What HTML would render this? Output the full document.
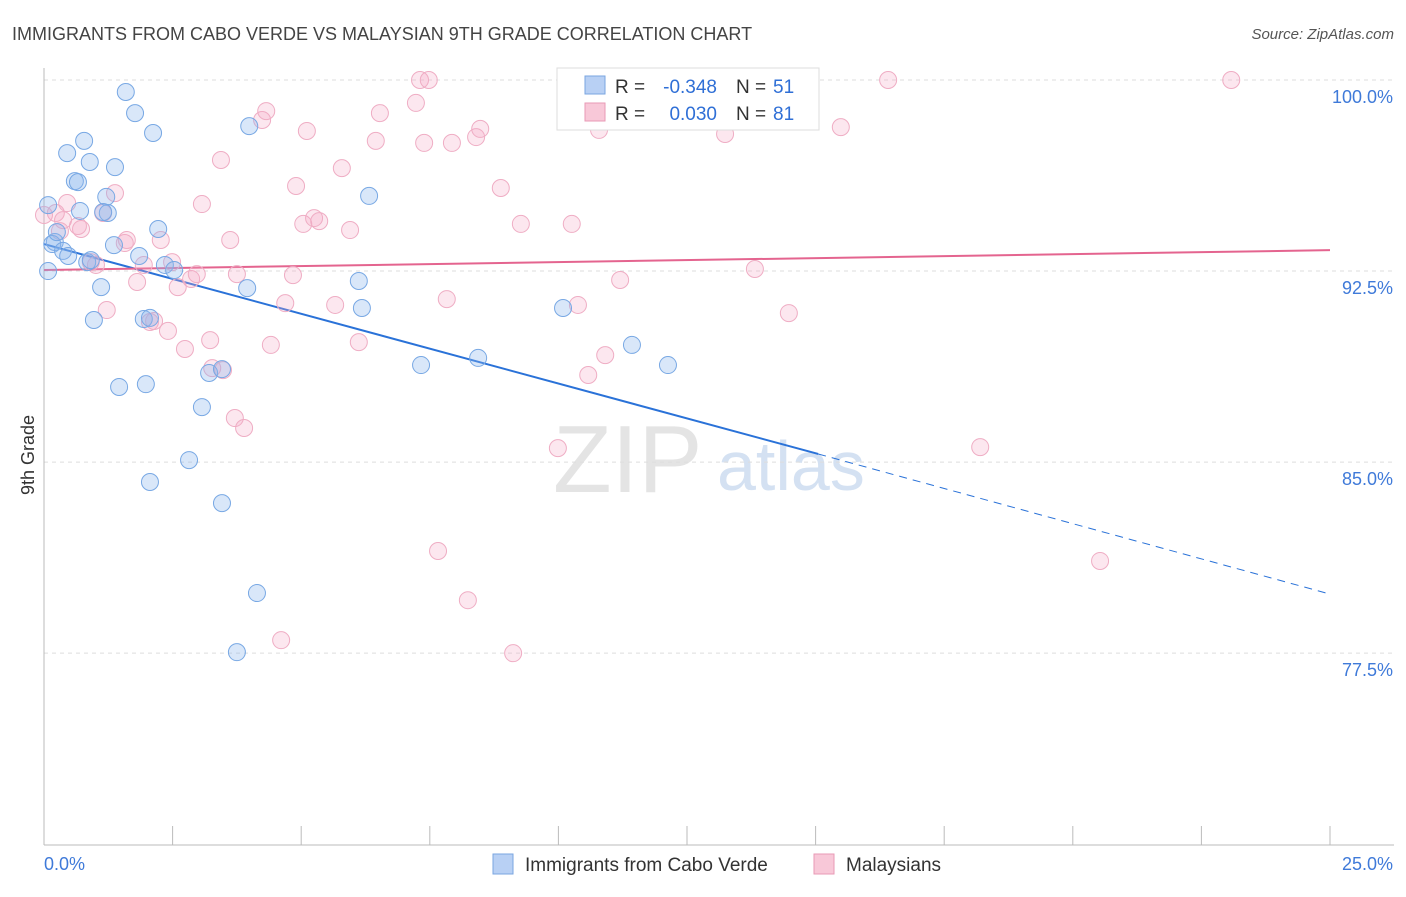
<!DOCTYPE html>
<html><head><meta charset="utf-8"><style>
body{margin:0;background:#fff;font-family:"Liberation Sans",sans-serif}
svg text{font-family:"Liberation Sans",sans-serif}
</style></head><body>
<svg id="chart" width="1406" height="892" viewBox="0 0 1406 892" xmlns="http://www.w3.org/2000/svg">
<text x="12" y="40" font-size="18" fill="#444">IMMIGRANTS FROM CABO VERDE VS MALAYSIAN 9TH GRADE CORRELATION CHART</text>
<text x="1394" y="39" font-size="15" fill="#555" font-style="italic" text-anchor="end">Source: ZipAtlas.com</text>
<g>
<text x="553" y="492" font-size="96" fill="#e4e4e4" font-family="Liberation Serif,serif">ZIP</text>
<text x="717" y="490" font-size="70" fill="#d4e1f2">atlas</text>
</g>
<g id="grid"></g>
<g id="axes"></g>
<g id="trends"></g>
<g id="points"></g>
<text transform="translate(34,455) rotate(-90)" font-size="18" fill="#333" text-anchor="middle">9th Grade</text>
<g>
<rect x="557" y="68" width="262" height="62" fill="#fff" stroke="#ddd"/>
<rect x="585" y="76" width="20" height="18" fill="#b8d0f4" stroke="#7aa6e0"/>
<text x="615" y="93" font-size="19" fill="#333">R =</text>
<text x="717" y="93" font-size="19" fill="#2f6fd6" text-anchor="end">-0.348</text>
<text x="736" y="93" font-size="19" fill="#333">N =</text>
<text x="773" y="93" font-size="19" fill="#2f6fd6">51</text>
<rect x="585" y="103" width="20" height="18" fill="#f8c8d8" stroke="#e89ab6"/>
<text x="615" y="120" font-size="19" fill="#333">R =</text>
<text x="717" y="120" font-size="19" fill="#2f6fd6" text-anchor="end">0.030</text>
<text x="736" y="120" font-size="19" fill="#333">N =</text>
<text x="773" y="120" font-size="19" fill="#2f6fd6">81</text>
</g>
<g>
<rect x="493" y="854" width="20" height="20" fill="#b8d0f4" stroke="#7aa6e0"/>
<text x="525" y="871" font-size="19" fill="#333">Immigrants from Cabo Verde</text>
<rect x="814" y="854" width="20" height="20" fill="#f8c8d8" stroke="#e89ab6"/>
<text x="846" y="871" font-size="19" fill="#333">Malaysians</text>
</g>
</svg>
<script>
const blueX=[1.59,1.77,2.12,0.78,0.45,0.89,1.38,0.60,0.66,0.08,0.70,1.21,1.24,1.15,2.22,3.99,6.32,0.21,0.16,0.37,0.47,1.36,1.85,0.84,0.91,2.35,2.53,0.08,1.11,3.95,6.12,6.18,0.97,1.94,10.09,11.43,8.44,7.33,12.13,3.21,3.46,1.46,1.98,3.07,2.82,2.06,3.46,4.14,3.75,0.25,2.06];
const blueY=[99.53,98.70,97.92,97.61,97.13,96.78,96.58,96.03,95.99,95.09,94.86,95.41,94.78,94.82,94.15,98.19,95.45,93.64,93.56,93.29,93.09,93.52,93.09,92.85,92.93,92.74,92.54,92.50,91.87,91.83,92.11,91.05,90.58,90.62,91.05,89.60,89.09,88.81,88.81,88.50,88.65,87.95,88.06,87.16,85.08,84.22,83.39,79.86,77.54,94.03,90.66];
const pinkX=[0.00,0.23,0.37,0.45,0.31,0.72,0.66,1.15,1.38,1.57,1.61,1.01,0.91,1.22,1.81,2.27,1.94,2.06,2.14,2.41,2.49,2.60,2.74,2.86,2.97,3.07,3.23,3.27,3.48,3.44,3.62,3.75,3.71,3.89,4.24,4.32,4.41,4.69,4.84,4.90,5.11,5.04,5.25,5.35,5.66,5.79,5.95,6.12,6.45,6.53,7.23,7.31,7.48,7.39,7.93,7.83,8.40,8.48,8.88,9.27,10.26,10.38,10.79,10.91,10.58,11.20,9.99,11.51,13.24,13.82,14.11,14.48,15.49,16.41,18.20,20.53,23.08,7.66,8.24,9.12,4.61];
const pinkY=[94.70,94.78,94.50,95.17,94.07,94.15,94.27,94.78,95.56,93.60,93.72,92.74,92.85,90.97,92.07,93.72,92.74,90.50,90.54,90.15,92.85,91.87,89.44,92.19,92.38,95.13,89.79,88.69,88.61,96.86,93.72,92.38,86.73,86.34,98.43,98.78,89.60,91.24,92.34,95.84,98.00,94.35,94.58,94.46,91.17,96.54,94.11,89.71,97.61,98.70,99.10,100.0,100.0,97.53,97.53,91.40,97.76,98.08,95.76,94.35,94.35,91.17,98.04,89.20,88.42,92.15,85.55,100.0,97.88,92.58,100.0,90.85,98.15,100.0,85.59,81.12,100.0,81.51,79.58,77.50,78.01];
const yTicks=[100.0,92.5,85.0,77.5];
const yTickLabels=["100.0%","92.5%","85.0%","77.5%"];
const blueTrend=[93.56,85.32,79.82];
const blueTrendX=[0,15.05,25];
const pinkTrend=[92.54,93.32];
const pinkTrendX=[0,25];

const X0=44,X1=1330,Y0=80,Y1=845,XMIN=0,XMAX=25,YMAX=100,YMIN=69.97;
const sx=v=>X0+(v-XMIN)/(XMAX-XMIN)*(X1-X0);
const sy=v=>Y0+(YMAX-v)/(YMAX-YMIN)*(Y1-Y0);
const NS="http://www.w3.org/2000/svg";
function mk(tag,attrs,parent){const e=document.createElementNS(NS,tag);for(const k in attrs)e.setAttribute(k,attrs[k]);parent.appendChild(e);return e;}
const grid=document.getElementById('grid'),axes=document.getElementById('axes'),trends=document.getElementById('trends'),pts=document.getElementById('points');
yTicks.forEach((t,i)=>{
 const l=mk('line',{x1:X0,x2:1394,y1:sy(t),y2:sy(t),stroke:'#ddd','stroke-dasharray':'4,4'},grid);
 
 
 const tx=mk('text',{x:1393,y:sy(t)+23,'font-size':18,fill:'#3f7ad9','text-anchor':'end'},axes);
 tx.textContent=yTickLabels[i];
 
 
});
mk('line',{x1:X0,x2:1394,y1:Y1,y2:Y1,stroke:'#bbb'},axes);
mk('line',{x1:X0,x2:X0,y1:68,y2:Y1,stroke:'#bbb'},axes);
for(let i=0;i<=10;i++){const v=i*2.5;const t=mk('line',{x1:sx(v),x2:sx(v),y1:826,y2:Y1,stroke:'#bbb'},axes);
 
 }
const xl0=mk('text',{x:44,y:870,'font-size':18,fill:'#3f7ad9'},axes);xl0.textContent='0.0%';


const xl1=mk('text',{x:1393,y:870,'font-size':18,fill:'#3f7ad9','text-anchor':'end'},axes);xl1.textContent='25.0%';



pinkX.forEach((x,i)=>{const c=mk('circle',{cx:sx(x),cy:sy(pinkY[i]),r:8.5,fill:'rgba(246,170,198,0.28)',stroke:'#efadc4','stroke-width':1},pts);
 
 });
blueX.forEach((x,i)=>{const c=mk('circle',{cx:sx(x),cy:sy(blueY[i]),r:8.5,fill:'rgba(140,182,238,0.33)',stroke:'#78a8e4','stroke-width':1},pts);
 
 });

const bl=mk('line',{x1:sx(blueTrendX[0]),y1:sy(blueTrend[0]),x2:sx(blueTrendX[1]),y2:sy(blueTrend[1]),stroke:'#2a72d8','stroke-width':2},trends);


const bd=mk('line',{x1:sx(blueTrendX[1]),y1:sy(blueTrend[1]),x2:sx(blueTrendX[2]),y2:sy(blueTrend[2]),stroke:'#2a72d8','stroke-width':1,'stroke-dasharray':'8,6'},trends);


const pl=mk('line',{x1:sx(pinkTrendX[0]),y1:sy(pinkTrend[0]),x2:sx(pinkTrendX[1]),y2:sy(pinkTrend[1]),stroke:'#e4648f','stroke-width':2},trends);


</script>
</body></html>
